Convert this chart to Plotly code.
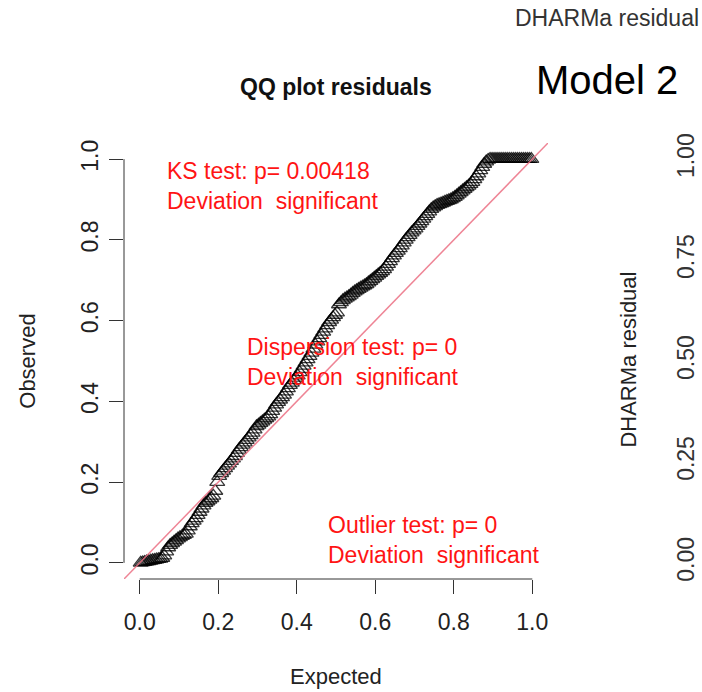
import plotly.graph_objects as go

# ---- data ----
expected = [
    0.0025, 0.0075, 0.0125, 0.0175, 0.0225, 0.0275, 0.0325, 0.0375, 0.0425, 0.0475,
    0.0525, 0.0575, 0.0625, 0.0675, 0.0725, 0.0775, 0.0825, 0.0875, 0.0925, 0.0975,
    0.1025, 0.1075, 0.1125, 0.1175, 0.1225, 0.1275, 0.1325, 0.1375, 0.1425, 0.1475,
    0.1525, 0.1575, 0.1625, 0.1675, 0.1725, 0.1775, 0.1825, 0.1875, 0.1925, 0.1975,
    0.2025, 0.2075, 0.2125, 0.2175, 0.2225, 0.2275, 0.2325, 0.2375, 0.2425, 0.2475,
    0.2525, 0.2575, 0.2625, 0.2675, 0.2725, 0.2775, 0.2825, 0.2875, 0.2925, 0.2975,
    0.3025, 0.3075, 0.3125, 0.3175, 0.3225, 0.3275, 0.3325, 0.3375, 0.3425, 0.3475,
    0.3525, 0.3575, 0.3625, 0.3675, 0.3725, 0.3775, 0.3825, 0.3875, 0.3925, 0.3975,
    0.4025, 0.4075, 0.4125, 0.4175, 0.4225, 0.4275, 0.4325, 0.4375, 0.4425, 0.4475,
    0.4525, 0.4575, 0.4625, 0.4675, 0.4725, 0.4775, 0.4825, 0.4875, 0.4925, 0.4975,
    0.5025, 0.5075, 0.5125, 0.5175, 0.5225, 0.5275, 0.5325, 0.5375, 0.5425, 0.5475,
    0.5525, 0.5575, 0.5625, 0.5675, 0.5725, 0.5775, 0.5825, 0.5875, 0.5925, 0.5975,
    0.6025, 0.6075, 0.6125, 0.6175, 0.6225, 0.6275, 0.6325, 0.6375, 0.6425, 0.6475,
    0.6525, 0.6575, 0.6625, 0.6675, 0.6725, 0.6775, 0.6825, 0.6875, 0.6925, 0.6975,
    0.7025, 0.7075, 0.7125, 0.7175, 0.7225, 0.7275, 0.7325, 0.7375, 0.7425, 0.7475,
    0.7525, 0.7575, 0.7625, 0.7675, 0.7725, 0.7775, 0.7825, 0.7875, 0.7925, 0.7975,
    0.8025, 0.8075, 0.8125, 0.8175, 0.8225, 0.8275, 0.8325, 0.8375, 0.8425, 0.8475,
    0.8525, 0.8575, 0.8625, 0.8675, 0.8725, 0.8775, 0.8825, 0.8875, 0.8925, 0.8975,
    0.9025, 0.9075, 0.9125, 0.9175, 0.9225, 0.9275, 0.9325, 0.9375, 0.9425, 0.9475,
    0.9525, 0.9575, 0.9625, 0.9675, 0.9725, 0.9775, 0.9825, 0.9875, 0.9925, 0.9975,
]
observed = [
    0.000, 0.001, 0.002, 0.003, 0.004, 0.005, 0.006, 0.007, 0.008, 0.009,
    0.010, 0.012, 0.018, 0.028, 0.038, 0.044, 0.048, 0.052, 0.056, 0.060,
    0.063, 0.066, 0.069, 0.072, 0.080, 0.090, 0.098, 0.104, 0.110, 0.118,
    0.126, 0.134, 0.142, 0.148, 0.152, 0.156, 0.160, 0.166, 0.178, 0.200,
    0.215, 0.222, 0.228, 0.234, 0.240, 0.246, 0.252, 0.258, 0.264, 0.272,
    0.280, 0.286, 0.292, 0.298, 0.304, 0.310, 0.316, 0.322, 0.330, 0.338,
    0.342, 0.346, 0.350, 0.354, 0.358, 0.362, 0.368, 0.376, 0.384, 0.392,
    0.398, 0.404, 0.410, 0.416, 0.424, 0.432, 0.440, 0.446, 0.452, 0.458,
    0.464, 0.472, 0.480, 0.488, 0.496, 0.504, 0.512, 0.520, 0.530, 0.540,
    0.548, 0.556, 0.564, 0.572, 0.580, 0.588, 0.596, 0.602, 0.608, 0.614,
    0.620, 0.640, 0.645, 0.650, 0.654, 0.657, 0.660, 0.664, 0.668, 0.672,
    0.675, 0.678, 0.681, 0.684, 0.687, 0.690, 0.694, 0.698, 0.702, 0.706,
    0.710, 0.714, 0.718, 0.722, 0.727, 0.733, 0.740, 0.747, 0.754, 0.761,
    0.767, 0.773, 0.779, 0.786, 0.793, 0.800, 0.806, 0.812, 0.818, 0.823,
    0.828, 0.834, 0.840, 0.846, 0.852, 0.858, 0.864, 0.870, 0.876, 0.880,
    0.883, 0.886, 0.888, 0.890, 0.892, 0.894, 0.896, 0.898, 0.900, 0.903,
    0.906, 0.910, 0.914, 0.918, 0.922, 0.926, 0.930, 0.934, 0.938, 0.943,
    0.950, 0.957, 0.964, 0.972, 0.980, 0.988, 0.994, 0.998, 1.000, 1.000,
    1.000, 1.000, 1.000, 1.000, 1.000, 1.000, 1.000, 1.000, 1.000, 1.000,
    1.000, 1.000, 1.000, 1.000, 1.000, 1.000, 1.000, 1.000, 1.000, 1.000,
]
diag_x = [-0.04, 1.04]
diag_y = [-0.04, 1.04]

x_ticks = [0.0, 0.2, 0.4, 0.6, 0.8, 1.0]
x_ticktext = ["0.0", "0.2", "0.4", "0.6", "0.8", "1.0"]
y_ticks = [0.0, 0.2, 0.4, 0.6, 0.8, 1.0]
y_ticktext = ["0.0", "0.2", "0.4", "0.6", "0.8", "1.0"]
y2_ticks = [0.0, 0.25, 0.5, 0.75, 1.0]
y2_ticktext = ["0.00", "0.25", "0.50", "0.75", "1.00"]

test_texts = [
    "KS test: p= 0.00418<br>Deviation\u00a0 significant",
    "Dispersion test: p= 0<br>Deviation\u00a0 significant",
    "Outlier test: p= 0<br>Deviation\u00a0 significant",
]

# ---- layout geometry (pixels) ----
W, H = 702, 692
L, R, T, B = 124.3, 548.4, 143.2, 578.8
FONT = "Liberation Sans, Arial, Helvetica, sans-serif"
AX = "#333333"


def pxx(px):
    return (px - L) / (R - L)


def pyy(py):
    return (B - py) / (B - T)


fig = go.Figure()
fig.add_trace(go.Scatter(
    x=expected, y=observed, mode="markers",
    marker=dict(symbol="triangle-up-open", size=13, color="rgba(0,0,0,0.78)",
                line=dict(width=1.3, color="rgba(0,0,0,0.78)")),
    showlegend=False, hoverinfo="skip", xaxis="x", yaxis="y",
))
fig.add_trace(go.Scatter(
    x=diag_x, y=diag_y, mode="lines",
    line=dict(color="rgba(235,110,130,0.85)", width=1.5),
    showlegend=False, hoverinfo="skip", xaxis="x", yaxis="y2",
))

annotations = []
# red test texts
text_pos = [(165.5, 185.9), (245.5, 362.4), (326.5, 539.5)]
for t, (px, py) in zip(test_texts, text_pos):
    annotations.append(dict(
        text=t, x=pxx(px), y=pyy(py), xref="paper", yref="paper",
        xanchor="left", yanchor="middle", align="left", showarrow=False,
        font=dict(family=FONT, size=23, color="#ff1414"),
    ))
# titles / labels
annotations += [
    dict(text="<b>QQ plot residuals</b>", x=pxx(336), y=pyy(87), xref="paper", yref="paper",
         showarrow=False, xanchor="center", yanchor="middle",
         font=dict(family=FONT, size=23, color="#111111")),
    dict(text="Expected", x=pxx(336), y=pyy(676), xref="paper", yref="paper",
         showarrow=False, xanchor="center", yanchor="middle",
         font=dict(family=FONT, size=22, color="#222222")),
    dict(text="Observed", x=pxx(27), y=pyy(361), xref="paper", yref="paper",
         showarrow=False, xanchor="center", yanchor="middle", textangle=-90,
         font=dict(family=FONT, size=22, color="#222222")),
    dict(text="DHARMa residual", x=pxx(629), y=pyy(360), xref="paper", yref="paper",
         showarrow=False, xanchor="center", yanchor="middle", textangle=-90,
         font=dict(family=FONT, size=22, color="#222222")),
    dict(text="DHARMa residual", x=pxx(607), y=pyy(18), xref="paper", yref="paper",
         showarrow=False, xanchor="center", yanchor="middle",
         font=dict(family=FONT, size=23, color="#333333")),
    dict(text="Model 2", x=pxx(607), y=pyy(80), xref="paper", yref="paper",
         showarrow=False, xanchor="center", yanchor="middle",
         font=dict(family=FONT, size=40, color="#000000")),
]

shapes = [
    dict(type="line", xref="x", yref="paper", x0=0, x1=1, y0=0, y1=0,
         line=dict(color=AX, width=1)),
    dict(type="line", xref="paper", yref="y", x0=0, x1=0, y0=0, y1=1,
         line=dict(color=AX, width=1)),
]

fig.update_layout(
    width=W, height=H,
    margin=dict(l=L, r=W - R, t=T, b=H - B, pad=0, autoexpand=False),
    paper_bgcolor="white", plot_bgcolor="white",
    showlegend=False,
    xaxis=dict(range=[-0.04, 1.04], tickvals=x_ticks, ticktext=x_ticktext,
               ticks="outside", ticklen=14, tickwidth=1, tickcolor=AX,
               showline=False, showgrid=False, zeroline=False, automargin=False,
               ticklabelstandoff=8,
               tickfont=dict(family=FONT, size=23, color="#222222")),
    yaxis=dict(range=[-0.04, 1.04], tickvals=y_ticks, ticktext=y_ticktext,
               ticks="outside", ticklen=14, tickwidth=1, tickcolor=AX,
               showline=False, showgrid=False, zeroline=False, automargin=False,
               tickangle=-90, ticklabelstandoff=2,
               tickfont=dict(family=FONT, size=23, color="#222222")),
    yaxis2=dict(range=[-0.04, 1.04], tickvals=y2_ticks, ticktext=y2_ticktext,
                overlaying="y", side="right", anchor="x",
                ticks="", showline=False, showgrid=False, zeroline=False,
                automargin=False,
                tickangle=-90, ticklabelstandoff=122,
                tickfont=dict(family=FONT, size=23, color="#333333")),
    annotations=annotations,
    shapes=shapes,
)

fig.write_html("out.html")
